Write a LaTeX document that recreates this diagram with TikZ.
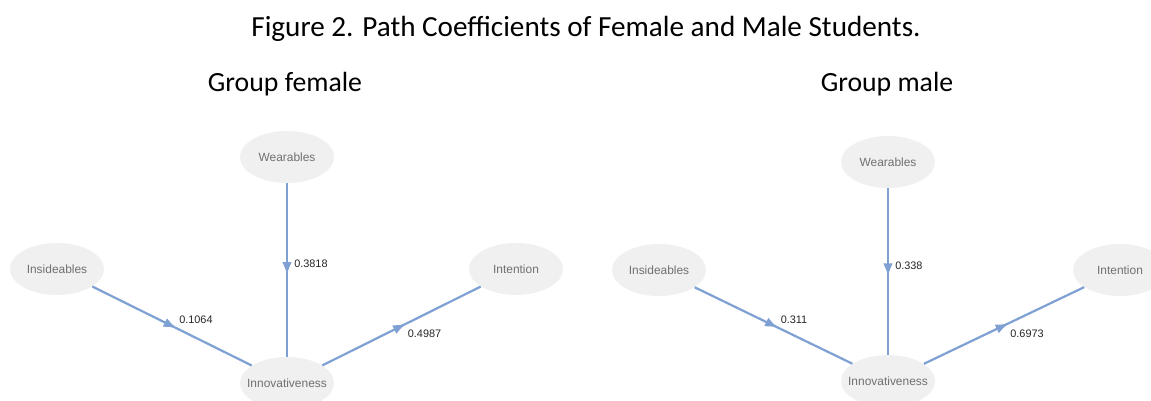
\documentclass[tikz,border=0pt]{standalone}
\usepackage{fontspec}
\setmainfont{Carlito}
\newfontfamily\plotfont{Liberation Sans}
\usetikzlibrary{arrows.meta,decorations.markings,shapes.geometric}
\definecolor{pathblue}{RGB}{127,160,210}
\definecolor{latentgray}{RGB}{240,240,240}
\definecolor{latenttext}{RGB}{112,112,112}

\begin{document}
\begin{tikzpicture}[x=0.02cm, y=-0.02cm,
    latent/.style={ellipse, fill=latentgray, text=latenttext, minimum width=1.88cm, minimum height=1.04cm, inner xsep=-4pt, inner ysep=0pt, font=\plotfont\fontsize{6.8}{8}\selectfont},
    coef/.style={draw=pathblue, line width=1.25pt, postaction={decorate}, decoration={markings, mark=at position 0.53 with {\arrow[pathblue]{Latex[length=7.5pt,width=5.5pt]}}}},
    upval/.style={anchor=west, xshift=3.5pt, yshift=3.5pt, inner sep=0pt, text=black!85, font=\plotfont\fontsize{6.2}{7}\selectfont},
    downval/.style={anchor=west, xshift=3pt, yshift=-4.5pt, inner sep=0pt, text=black!85, font=\plotfont\fontsize{6.2}{7}\selectfont},
    heading/.style={anchor=base, inner sep=0pt, font=\fontsize{15.8}{18}\selectfont}]
    \path[use as bounding box, fill=white] (0,0) rectangle (1151,401);

    % Titles
    \node[heading, font=\fontsize{16.6}{19}\selectfont] (title) at (586,37) {Figure 2. Path Coefficients of Female and Male Students.};
    \node[heading] (gfemale) at (285,92) {Group female};
    \node[heading] (gmale) at (887,92) {Group male};

    % Group female
    \node[latent] (fwear) at (287,157) {Wearables};
    \node[latent] (fins) at (57,269) {Insideables};
    \node[latent] (fint) at (516,269) {Intention};
    \node[latent] (finno) at (287,383) {Innovativeness};

    % Group male
    \node[latent] (mwear) at (888,162) {Wearables};
    \node[latent] (mins) at (659,270) {Insideables};
    \node[latent] (mint) at (1120,270) {Intention};
    \node[latent] (minno) at (888,381) {Innovativeness};

    % Paths female
    \draw[coef] (fins) -- node[upval] {0.1064} (finno);
    \draw[coef] (fwear) -- node[upval] {0.3818} (finno);
    \draw[coef] (finno) -- node[downval] {0.4987} (fint);

    % Paths male
    \draw[coef] (mins) -- node[upval] {0.311} (minno);
    \draw[coef] (mwear) -- node[upval] {0.338} (minno);
    \draw[coef] (minno) -- node[downval] {0.6973} (mint);
\end{tikzpicture}
\end{document}
